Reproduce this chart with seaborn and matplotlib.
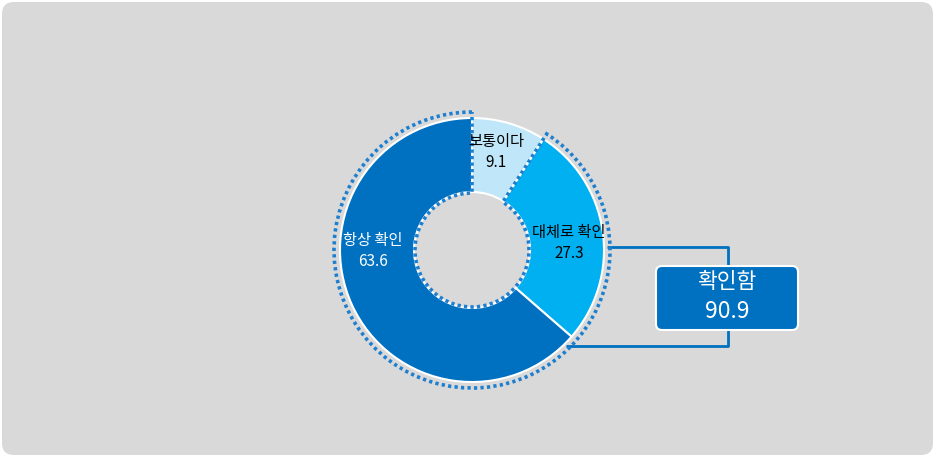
import matplotlib
matplotlib.use("Agg")
import matplotlib.pyplot as plt
from matplotlib.patches import Wedge, FancyBboxPatch
import seaborn as sns
import numpy as np

categories = ["보통이다", "대체로 확인", "항상 확인"]
values = [9.1, 27.3, 63.6]
colors = ["#bfe6f9", "#00b0f0", "#0070c0"]
summary_label = "확인함"
summary_value = "90.9"

sns.set_theme(style="white")
plt.rcParams["font.family"] = ["Noto Sans CJK KR", "DejaVu Sans"]

W, H = 935, 457
fig = plt.figure(figsize=(W / 100, H / 100), dpi=100, facecolor="white")
ax = fig.add_axes([0, 0, 1, 1])
ax.set_xlim(0, W)
ax.set_ylim(0, H)
ax.axis("off")

def py(y):
    return H - y

# background panel
bg = FancyBboxPatch((2, 2), W - 4, H - 4, boxstyle="round,pad=0,rounding_size=12",
                    facecolor="#d9d9d9", edgecolor="none", zorder=0)
ax.add_patch(bg)

cx, cy = 472, py(250)
R_out, R_in = 132, 58

wedges, _ = ax.pie(values, startangle=90, counterclock=False, colors=colors,
                   radius=R_out, center=(cx, cy), frame=True,
                   wedgeprops=dict(width=R_out - R_in, edgecolor="white", linewidth=1.5))
for w in wedges:
    w.set_zorder(2)
ax.set_xlim(0, W)
ax.set_ylim(0, H)
ax.set_aspect("equal")
ax.axis("off")

# dotted outline around the "확인함" portion
start_ang = 90 - values[0] / 100 * 360
outline = Wedge((cx, cy), R_out + 6, 90, start_ang + 360, width=R_out + 6 - (R_in - 1),
                facecolor="none", edgecolor="#1f7fcf", linewidth=2.6,
                linestyle=(0, (0.9, 0.9)), zorder=3)
ax.add_patch(outline)

# labels
label_pos = [(496, 152), (569, 243), (373, 251)]
label_colors = ["black", "black", "white"]
for cat, val, (lx, ly), lc in zip(categories, values, label_pos, label_colors):
    ax.text(lx, py(ly), f"{cat}\n{val}", ha="center", va="center", fontsize=11,
            color=lc, linespacing=1.3, zorder=4)

# bracket lines
line_c = "#0070c0"
ax.plot([607, 728, 728], [py(247), py(247), py(266)], color=line_c, lw=2, zorder=1,
        solid_capstyle="butt")
ax.plot([728, 728, 566], [py(330), py(346), py(346)], color=line_c, lw=2, zorder=1,
        solid_capstyle="butt")

# summary box
bx0, by0, bx1, by1 = 656, 266, 798, 330
box = FancyBboxPatch((bx0, py(by1)), bx1 - bx0, by1 - by0,
                     boxstyle="round,pad=0,rounding_size=6",
                     facecolor="#0070c0", edgecolor="white", linewidth=1.5, zorder=5)
ax.add_patch(box)
ax.text((bx0 + bx1) / 2, py(282), summary_label, ha="center", va="center",
        fontsize=15.5, color="white", zorder=6)
ax.text((bx0 + bx1) / 2, py(312), summary_value, ha="center", va="center",
        fontsize=16.5, color="white", zorder=6)

fig.savefig("out.png", dpi=100, facecolor="white")
